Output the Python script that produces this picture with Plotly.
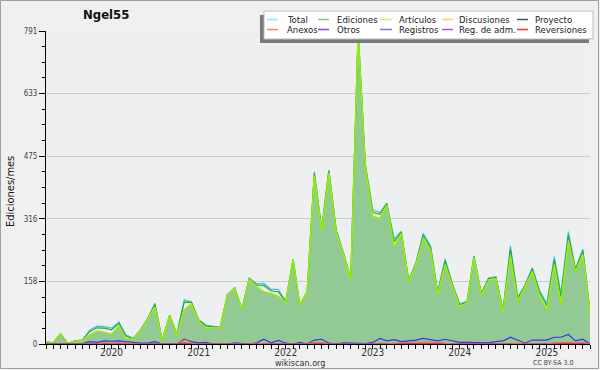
import pandas as pd
import plotly.graph_objects as go

# ---------------- data ----------------
start_month = "2019-04-01"
n_months = 76
months = pd.date_range(start_month, periods=n_months, freq="MS")

total = [6, 2, 26, 1, 8, 10, 35, 45, 44, 40,
         56, 23, 14, 35, 65, 103, 10, 73, 24, 111,
         107, 61, 48, 45, 42, 124, 142, 88, 166, 152,
         153, 138, 138, 107, 214, 99, 132, 435, 292, 440,
         288, 229, 166, 791, 455, 339, 332, 356, 265, 285,
         162, 205, 280, 248, 132, 215, 153, 102, 107, 223,
         128, 167, 170, 86, 248, 118, 149, 193, 136, 102,
         221, 126, 284, 190, 240, 84]
ediciones = [6, 2, 26, 1, 8, 10, 31, 41, 40, 36,
             52, 20, 14, 35, 65, 100, 10, 73, 24, 106,
             105, 60, 45, 44, 42, 124, 142, 88, 166, 149,
             148, 134, 132, 107, 214, 99, 132, 431, 289, 437,
             286, 228, 165, 788, 452, 333, 328, 354, 258, 283,
             160, 203, 275, 243, 129, 210, 151, 99, 106, 221,
             127, 165, 168, 85, 240, 115, 148, 190, 131, 96,
             213, 118, 275, 188, 235, 82]
articulos = [6, 2, 26, 1, 7, 9, 23, 33, 30, 25,
             45, 14, 13, 34, 64, 94, 9, 72, 23, 86,
             101, 58, 40, 42, 41, 123, 141, 87, 164, 145,
             132, 128, 120, 105, 213, 98, 131, 425, 285, 432,
             282, 226, 163, 785, 448, 322, 318, 351, 246, 279,
             157, 200, 267, 236, 126, 200, 148, 94, 104, 218,
             124, 160, 165, 82, 221, 108, 145, 183, 123, 86,
             200, 101, 259, 183, 225, 80]
discusiones = [0, 0, 0, 0, 0, 0, 1, 1, 0, 0,
               1, 0, 0, 0, 0, 1, 0, 0, 0, 1,
               0, 0, 0, 0, 0, 0, 0, 0, 0, 1,
               0, 0, 1, 0, 0, 0, 0, 1, 0, 0,
               0, 0, 0, 0, 0, 1, 0, 0, 1, 0,
               0, 0, 1, 0, 0, 1, 0, 0, 0, 0,
               0, 0, 0, 0, 1, 0, 0, 0, 1, 0,
               1, 0, 1, 0, 1, 0]
proyecto = [0] * 76
anexos = [0, 0, 0, 0, 0, 0, 0, 0, 3, 2,
          3, 2, 0, 0, 0, 0, 0, 0, 0, 14,
          2, 0, 0, 0, 0, 0, 0, 0, 0, 3,
          0, 0, 0, 0, 0, 0, 0, 4, 4, 0,
          0, 0, 0, 0, 0, 0, 0, 0, 2, 3,
          5, 5, 4, 5, 4, 2, 0, 0, 0, 0,
          0, 0, 0, 0, 0, 2, 0, 0, 0, 0,
          3, 4, 4, 3, 4, 0]
otros = [0] * 76
registros = [0, 0, 0, 0, 0, 1, 6, 4, 8, 7,
             8, 6, 4, 2, 2, 6, 0, 1, 0, 12,
             6, 3, 4, 0, 0, 0, 3, 2, 0, 3,
             12, 3, 9, 2, 0, 4, 0, 10, 12, 2,
             0, 3, 2, 2, 1, 4, 14, 8, 11, 6,
             8, 10, 14, 10, 8, 12, 9, 4, 4, 4,
             4, 3, 6, 8, 17, 10, 2, 10, 10, 10,
             17, 17, 24, 8, 12, 0]
reg_adm = [0] * 76
reversiones = [0, 0, 0, 0, 0, 0, 0, 0, 0, 0,
               0, 0, 0, 0, 0, 0, 0, 0, 0, 3,
               0, 0, 0, 0, 0, 0, 0, 0, 0, 0,
               0, 0, 0, 0, 0, 0, 0, 0, 0, 0,
               0, 0, 0, 0, 0, 0, 2, 0, 0, 0,
               0, 0, 0, 0, 0, 0, 0, 0, 0, 0,
               0, 0, 0, 0, 0, 0, 0, 0, 0, 0,
               0, 0, 2, 0, 0, 0]

y_ticks = [0, 158, 316, 475, 633, 791]
y_max = 791
title_text = "Ngel55"
y_title = "Ediciones/mes"

series = [
    ("Total", total, "#33cccc", 1.2),
    ("Ediciones", ediciones, "#3aa03a", 1.2),
    ("Artículos", articulos, "#99ee00", 1.5),
    ("Discusiones", discusiones, "#ffbb33", 1.0),
    ("Proyecto", proyecto, "#444444", 1.0),
    ("Otros", otros, "#7733cc", 1.0),
    ("Reg. de adm.", reg_adm, "#cc33cc", 1.0),
    ("Reversiones", reversiones, "#ee2222", 1.0),
    ("Registros", registros, "#3333ff", 1.2),
    ("Anexos", anexos, "#ff6633", 1.0),
]
legend_colors = {
    "Total": "#9fe3e3", "Ediciones": "#7cc97c", "Artículos": "#ccf266",
    "Discusiones": "#ffcc66", "Proyecto": "#555555", "Anexos": "#ff7f50",
    "Otros": "#8844dd", "Registros": "#7777ee", "Reg. de adm.": "#cc44dd",
    "Reversiones": "#ee3333",
}
legend_rows = [["Total", "Ediciones", "Artículos", "Discusiones", "Proyecto"],
               ["Anexos", "Otros", "Registros", "Reg. de adm.", "Reversiones"]]

# ---------------- layout geometry (pixels) ----------------
W, H = 600, 370
ML, MR, MT, MB = 46, 10, 31, 26
PW, PH = W - ML - MR, H - MT - MB
FONT = "DejaVu Sans Condensed, DejaVu Sans, sans-serif"


def px(x):
    return (x - ML) / PW


def py(y):
    return (H - MB - y) / PH


fig = go.Figure()

# filled area under Artículos
fig.add_trace(go.Scatter(x=months, y=articulos, mode="lines", line=dict(width=0),
                         fill="tozeroy", fillcolor="#93c995", showlegend=False,
                         hoverinfo="skip"))
for name, vals, color, w in series:
    fig.add_trace(go.Scatter(x=months, y=vals, mode="lines", name=name,
                             line=dict(color=color, width=w), showlegend=False))

tickvals = list(months)
ticktext = [str(d.year) if d.month == 1 else "" for d in months]

fig.update_xaxes(
    type="date", range=[months[0], months[-1]],
    tickmode="array", tickvals=tickvals, ticktext=ticktext,
    ticks="outside", ticklen=4, tickcolor="#000", tickwidth=1,
    showline=True, linecolor="#000", linewidth=1,
    showgrid=False, zeroline=False, ticklabelstandoff=-5,
    tickfont=dict(family=FONT, size=10, color="#333"),
)
fig.update_yaxes(
    range=[0, y_max], tickmode="array", tickvals=y_ticks,
    ticktext=[str(v) for v in y_ticks],
    ticks="outside", ticklen=6, tickcolor="#000", tickwidth=1,
    showline=True, linecolor="#000", linewidth=1,
    showgrid=True, gridcolor="#cccccc", gridwidth=1, zeroline=False,
    tickfont=dict(family=FONT, size=8, color="#444"),
    minor=dict(tickmode="linear", tick0=0, dtick=y_max / 20, ticks="outside",
               ticklen=3, tickcolor="#000", showgrid=False),
)

shapes = []
annotations = []

# outer frame
shapes.append(dict(type="rect", xref="paper", yref="paper",
                   x0=px(0.5), x1=px(598.5), y0=py(368.5), y1=py(0.5),
                   line=dict(color="#a0a0a0", width=1), fillcolor="rgba(0,0,0,0)",
                   layer="below"))

# legend box with shadow
shapes.append(dict(type="rect", xref="paper", yref="paper",
                   x0=px(260), x1=px(589), y0=py(43), y1=py(15),
                   line=dict(width=0), fillcolor="#7a7a7a", layer="above"))
shapes.append(dict(type="rect", xref="paper", yref="paper",
                   x0=px(264), x1=px(593), y0=py(39), y1=py(11),
                   line=dict(color="#bbbbbb", width=1), fillcolor="#ffffff",
                   layer="above"))
col_swatch = [(267, 278), (318, 329), (380, 392), (442, 453), (517, 528)]
col_text = [285, 335, 397, 457, 533]
row_y = [19.5, 29.5]
for r, row in enumerate(legend_rows):
    for c, name in enumerate(row):
        x0, x1 = col_swatch[c]
        shapes.append(dict(type="line", xref="paper", yref="paper",
                           x0=px(x0), x1=px(x1), y0=py(row_y[r]), y1=py(row_y[r]),
                           line=dict(color=legend_colors[name], width=1.5),
                           layer="above"))
        annotations.append(dict(text=name, xref="paper", yref="paper",
                                x=px(col_text[c]), y=py(row_y[r]),
                                xanchor="left", yanchor="middle", showarrow=False,
                                font=dict(family=FONT, size=9.5, color="#222")))

# title
annotations.append(dict(text="<b>" + title_text + "</b>", xref="paper", yref="paper",
                        x=px(106), y=py(14), xanchor="center", yanchor="middle",
                        showarrow=False, font=dict(family=FONT, size=13, color="#111")))
# y-axis title
annotations.append(dict(text=y_title, xref="paper", yref="paper",
                        x=px(10), y=py(192), xanchor="center", yanchor="middle",
                        textangle=-90, showarrow=False,
                        font=dict(family=FONT, size=11, color="#111")))
# footers
annotations.append(dict(text="wikiscan.org", xref="paper", yref="paper",
                        x=px(300), y=py(362.5), xanchor="center", yanchor="middle",
                        showarrow=False, font=dict(family=FONT, size=9, color="#333")))
annotations.append(dict(text="CC BY-SA 3.0", xref="paper", yref="paper",
                        x=px(553), y=py(363), xanchor="center", yanchor="middle",
                        showarrow=False, font=dict(family=FONT, size=7, color="#444")))

fig.update_layout(
    width=W, height=H,
    margin=dict(l=ML, r=MR, t=MT, b=MB, pad=0),
    paper_bgcolor="#f0f0f0", plot_bgcolor="#eeeff1",
    showlegend=False, shapes=shapes, annotations=annotations,
    font=dict(family=FONT),
)

fig.write_html("out.html")
